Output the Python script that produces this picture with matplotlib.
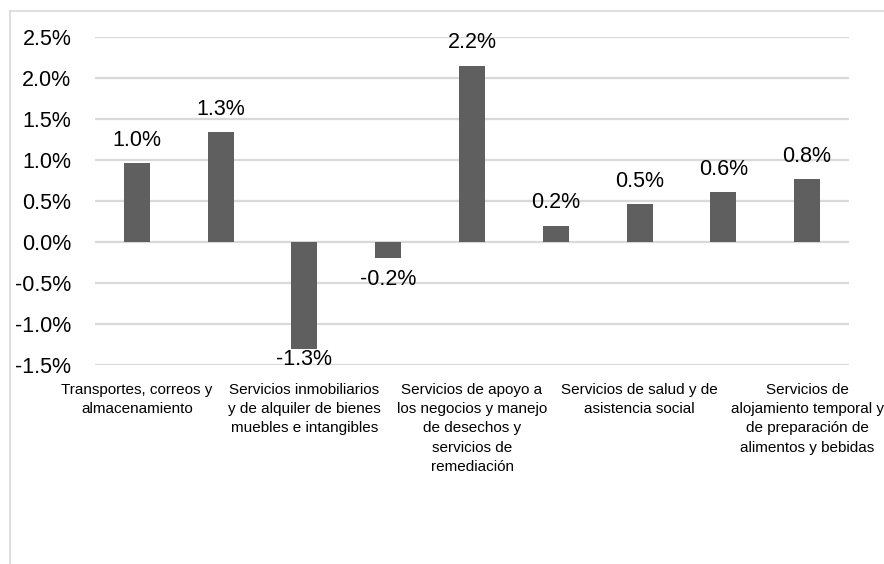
"""Variación por sector de servicios: gráfico de barras con etiquetas de datos."""
import matplotlib.pyplot as plt
from matplotlib.lines import Line2D
from matplotlib.ticker import FuncFormatter

plt.rcParams["font.family"] = ["Liberation Sans", "DejaVu Sans"]

categories = [
    "Transportes, correos y\nalmacenamiento",
    "Información en medios masivos",
    "Servicios inmobiliarios\ny de alquiler de bienes\nmuebles e intangibles",
    "Servicios profesionales, científicos y técnicos",
    "Servicios de apoyo a\nlos negocios y manejo\nde desechos y\nservicios de\nremediación",
    "Servicios educativos",
    "Servicios de salud y de\nasistencia social",
    "Servicios de esparcimiento culturales y deportivos",
    "Servicios de\nalojamiento temporal y\nde preparación de\nalimentos y bebidas",
]
values = [0.96, 1.34, -1.31, -0.195, 2.15, 0.20, 0.46, 0.61, 0.765]
labels = ["1.0%", "1.3%", "-1.3%", "-0.2%", "2.2%", "0.2%", "0.5%", "0.6%", "0.8%"]

BAR = "#5f5f5f"
GRID = "#d9d9d9"

fig = plt.figure(figsize=(8.84, 5.64), dpi=100)
ax = fig.add_axes([0.1075, 0.3528, 0.8529, 0.5816])

x = list(range(len(values)))
ax.bar(x, values, width=0.31, color=BAR, zorder=3)

ymin, ymax = -1.5, 2.5
ax.set_ylim(ymin, ymax)
ax.set_xlim(-0.5, len(values) - 0.5)
ax.set_yticks([-1.5, -1.0, -0.5, 0.0, 0.5, 1.0, 1.5, 2.0, 2.5])
ax.yaxis.set_major_formatter(FuncFormatter(lambda v, p: f"{v:.1f}%"))
ax.tick_params(axis="y", length=0, labelsize=15.5, pad=17)
ax.yaxis.grid(True, color=GRID, linewidth=1.6, zorder=0)

# Excel shows only every other category label
shown = x[::2]
ax.set_xticks(shown)
ax.set_xticklabels([categories[i] for i in shown], fontsize=11, linespacing=1.47)
ax.tick_params(axis="x", length=0, pad=13)

for s in ax.spines.values():
    s.set_visible(False)

# data labels (outside end, kept inside the plot area)
for xi, v, lab in zip(x, values, labels):
    if v >= 0:
        ax.text(xi, v + 0.21, lab, ha="center", va="baseline", fontsize=15.5)
    else:
        ax.text(xi, max(v - 0.14, ymin + 0.19), lab, ha="center", va="top", fontsize=15.5)

# chart area border (cut off on the right and bottom)
fig.add_artist(Line2D([10 / 884, 10 / 884], [0, 1 - 11 / 564],
                      transform=fig.transFigure, color=GRID, linewidth=1.2))
fig.add_artist(Line2D([10 / 884, 1], [1 - 11 / 564, 1 - 11 / 564],
                      transform=fig.transFigure, color=GRID, linewidth=1.2))

fig.savefig("out.png", dpi=100)
